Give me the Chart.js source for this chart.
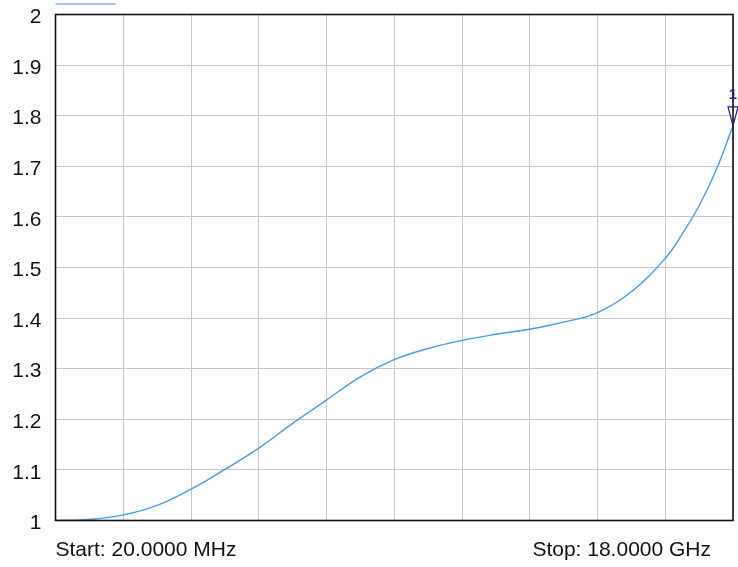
<!DOCTYPE html>
<html>
<head>
<meta charset="utf-8">
<script src="https://cdn.jsdelivr.net/npm/chart.js@4/dist/chart.umd.min.js"></script>
<style>
html,body{margin:0;padding:0;background:#fff;}
#wrap{width:738px;height:567px;}
</style>
</head>
<body>
<div id="wrap"><canvas id="c" width="738" height="567"></canvas></div>
<script>
// Frequency sweep (GHz)
const startGHz = 0.02;
const stopGHz = 18;
const divisions = 10;
// Sample positions in grid divisions (0..10) and read values
const sampleDiv = [0, 0.5, 1, 1.5, 2, 2.5, 3, 3.5, 4, 4.5, 5, 5.5, 6, 6.5, 7, 7.5, 8, 8.5, 9, 9.25, 9.5, 9.75, 10];
const traceValues = [1.000, 1.002, 1.011, 1.030, 1.062, 1.101, 1.143, 1.192, 1.238, 1.284, 1.318, 1.340, 1.356, 1.368, 1.378, 1.392, 1.411, 1.452, 1.518, 1.566, 1.622, 1.692, 1.780];
const yTicks = [1, 1.1, 1.2, 1.3, 1.4, 1.5, 1.6, 1.7, 1.8, 1.9, 2];
const markerFreq = [18];
const markerVal = [1.78];
const markerText = ['1'];
const startLabel = 'Start: 20.0000 MHz';
const stopLabel = 'Stop: 18.0000 GHz';

const step = (stopGHz - startGHz) / divisions;
const traceFreq = sampleDiv.map(d => startGHz + d * step);
const points = traceFreq.map((f, i) => ({x: f, y: traceValues[i]}));
const xGrid = Array.from({length: divisions + 1}, (_, k) => startGHz + k * step);

const FONT = '"Liberation Sans", Arial, sans-serif';

const decor = {
  id: 'decor',
  afterDatasetsDraw(chart) {
    const ctx = chart.ctx;
    const a = chart.chartArea;
    const xs = chart.scales.x, ys = chart.scales.y;
    ctx.save();
    // frame
    ctx.strokeStyle = '#111';
    ctx.lineWidth = 1.6;
    ctx.strokeRect(a.left, a.top, a.right - a.left, a.bottom - a.top);
    // trace indicator line at top
    ctx.strokeStyle = '#9cc6f2';
    ctx.lineWidth = 2;
    ctx.beginPath();
    ctx.moveTo(a.left, 4);
    ctx.lineTo(a.left + 60, 4);
    ctx.stroke();
    // marker
    markerFreq.forEach((f, i) => {
      const px = xs.getPixelForValue(f);
      const py = ys.getPixelForValue(markerVal[i]);
      ctx.strokeStyle = '#1c1c80';
      ctx.lineWidth = 1.2;
      ctx.beginPath();
      ctx.moveTo(px, py);
      ctx.lineTo(px - 5, py - 19);
      ctx.lineTo(px + 5, py - 19);
      ctx.closePath();
      ctx.stroke();
      ctx.fillStyle = '#1c1c80';
      ctx.font = 'bold 15px ' + FONT;
      ctx.textAlign = 'center';
      ctx.textBaseline = 'alphabetic';
      ctx.fillText(markerText[i], px, py - 27);
    });
    // start / stop labels
    ctx.fillStyle = '#111';
    ctx.font = '21px ' + FONT;
    ctx.textBaseline = 'middle';
    ctx.textAlign = 'left';
    ctx.fillText(startLabel, a.left, 550);
    ctx.textAlign = 'right';
    ctx.fillText(stopLabel, a.right - 22, 550);
    ctx.restore();
  }
};

new Chart(document.getElementById('c'), {
  type: 'line',
  data: {
    datasets: [{
      data: points,
      borderColor: '#4a98ea',
      borderWidth: 1.4,
      pointRadius: 0,
      fill: false,
      tension: 0.4
    }]
  },
  options: {
    responsive: false,
    animation: false,
    layout: {padding: {top: 14.5, right: 5, left: 0, bottom: 0}},
    plugins: {legend: {display: false}, tooltip: {enabled: false}},
    scales: {
      x: {
        type: 'linear',
        min: startGHz,
        max: stopGHz,
        afterBuildTicks(scale) { scale.ticks = xGrid.map(v => ({value: v})); },
        afterFit(scale) { scale.height = 46.5; scale.paddingLeft = 0; scale.paddingRight = 0; },
        ticks: {display: false},
        grid: {color: '#c8c8c8', lineWidth: 1, drawTicks: false},
        border: {display: false}
      },
      y: {
        min: 1,
        max: 2,
        afterBuildTicks(scale) { scale.ticks = yTicks.map(v => ({value: v})); },
        afterFit(scale) { scale.width = 55.5; scale.paddingTop = 0; scale.paddingBottom = 0; },
        ticks: {
          color: '#111',
          font: {family: FONT, size: 21},
          padding: 14,
          labelOffset: 3,
          callback: v => String(Math.round(v * 10) / 10)
        },
        grid: {color: '#c8c8c8', lineWidth: 1, drawTicks: false},
        border: {display: false}
      }
    }
  },
  plugins: [decor]
});
</script>
</body>
</html>
